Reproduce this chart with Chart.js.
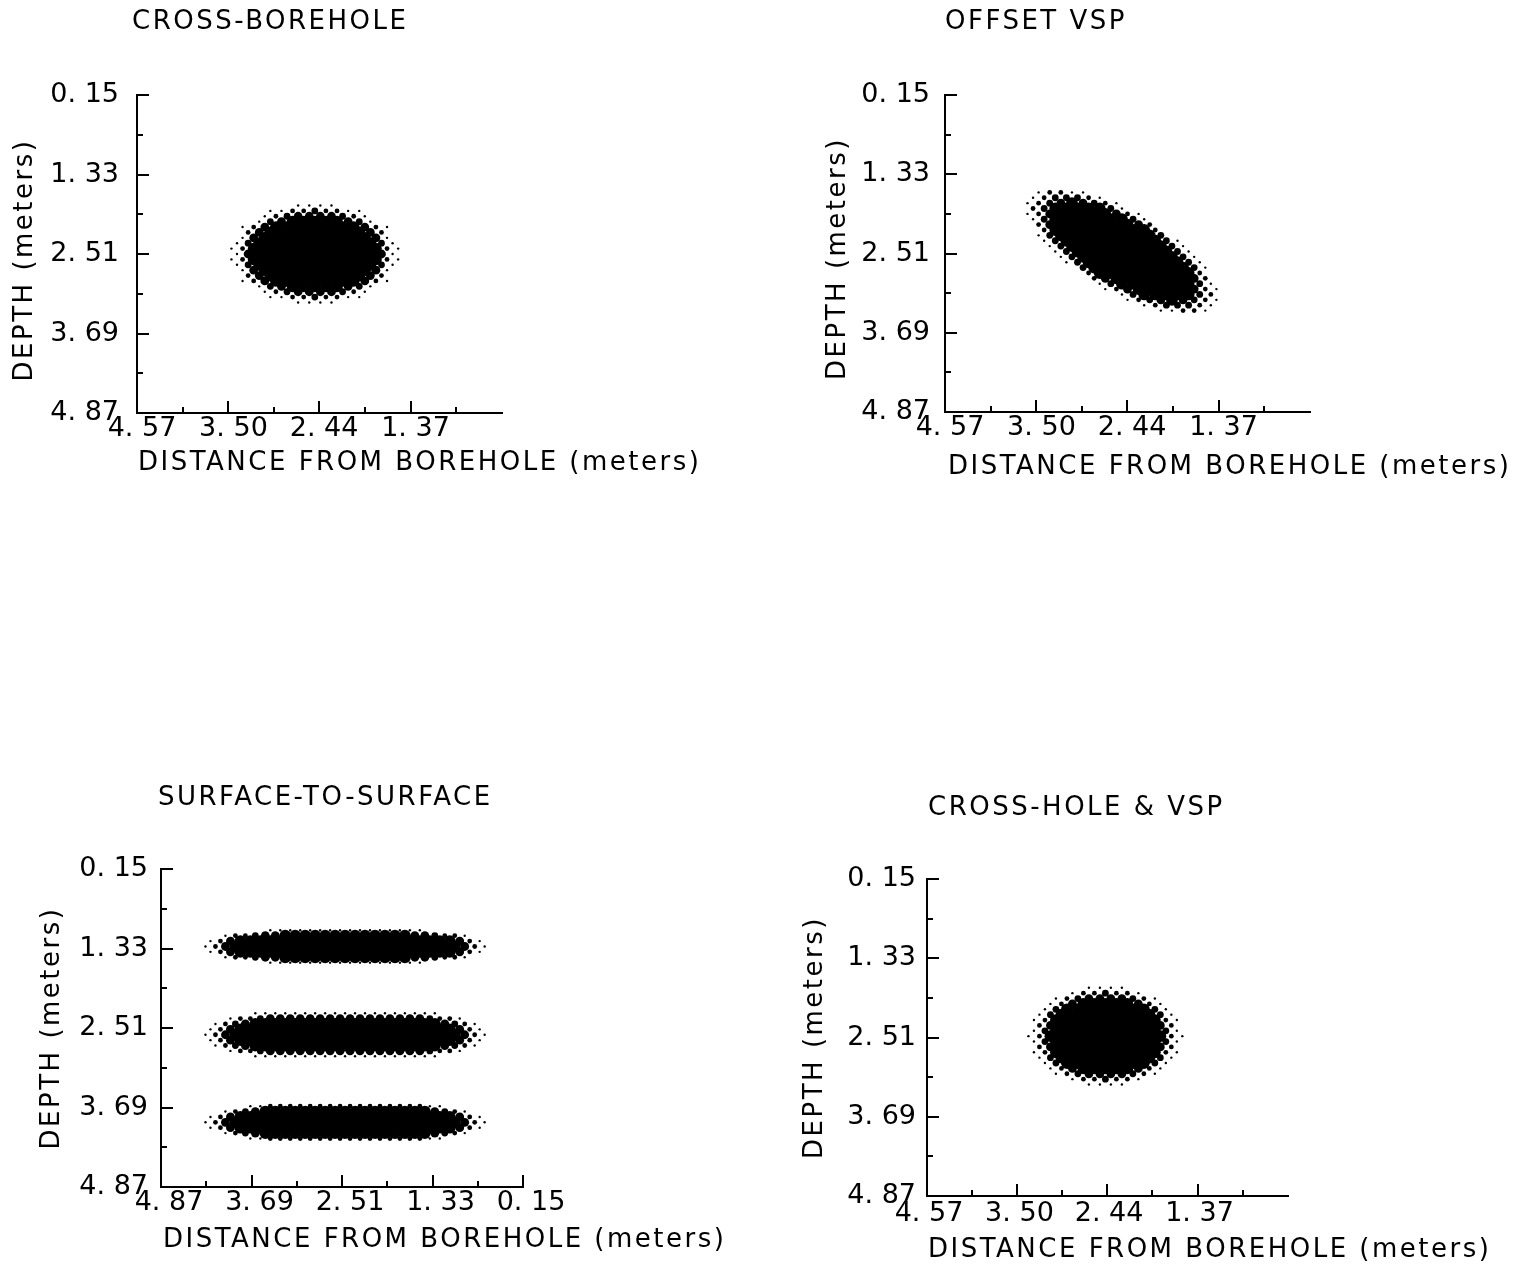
<!DOCTYPE html>
<html>
<head>
<meta charset="utf-8">
<title>Resolution of four survey geometries</title>
<script src="https://cdn.jsdelivr.net/npm/chart.js@4.4.1/dist/chart.umd.min.js"></script>
<style>
  html, body { margin: 0; padding: 0; background: #ffffff; }
  body { position: relative; width: 1533px; height: 1268px; overflow: hidden; }
  canvas { position: absolute; }
</style>
</head>
<body>
<canvas id="p1" width="766" height="634" style="left:0px;top:0px"></canvas>
<canvas id="p2" width="767" height="634" style="left:766px;top:0px"></canvas>
<canvas id="p3" width="766" height="634" style="left:0px;top:634px"></canvas>
<canvas id="p4" width="767" height="634" style="left:766px;top:634px"></canvas>
<script>
// ---------------- DATA ----------------
const PANEL_TITLES = ['CROSS-BOREHOLE', 'OFFSET VSP', 'SURFACE-TO-SURFACE', 'CROSS-HOLE & VSP'];
const X_TITLE = 'DISTANCE FROM BOREHOLE (meters)';
const Y_TITLE = 'DEPTH (meters)';

// depth axis (all panels)
const DEPTH_RANGE = [0.15, 4.87];
const DEPTH_TICKS = [0.15, 1.33, 2.51, 3.69, 4.87];
const DEPTH_LABELS = ['0. 15', '1. 33', '2. 51', '3. 69', '4. 87'];
const DEPTH_MINOR = [0.74, 1.92, 3.10, 4.28];

// distance axis, borehole panels
const DIST_RANGE = [0.30, 4.57];
const DIST_TICKS = [4.57, 3.50, 2.44, 1.37];
const DIST_LABELS = ['4. 57', '3. 50', '2. 44', '1. 37'];
const DIST_MINOR = [4.035, 2.97, 1.905, 0.835];

// distance axis, surface-to-surface panel
const SURF_RANGE = [0.15, 4.87];
const SURF_TICKS = [4.87, 3.69, 2.51, 1.33, 0.15];
const SURF_LABELS = ['4. 87', '3. 69', '2. 51', '1. 33', '0. 15'];
const SURF_MINOR = [4.28, 3.10, 1.92, 0.74];

// halftone resolution images: grid cell size (m) and intensity (0-9) per dot row;
// odd rows are staggered by half a cell (halftone screen)
const CELL_DX = 0.13;
const CELL_DY = 0.08;

const CROSS_BOREHOLE_ORIGIN = [1.515, 1.79];
const CROSS_BOREHOLE_ROWS = [
  "0000001111000000",
  "0001133533110000",
  "0001357777531000",
  "0015799999751000",
  "0137999999997310",
  "0379999999997300",
  "0179999999999710",
  "1599999999999510",
  "1399999999999931",
  "1799999999999710",
  "1399999999999931",
  "1599999999999510",
  "0179999999999710",
  "0379999999997300",
  "0137999999997310",
  "0015799999751000",
  "0001357777531000",
  "0001133533110000",
  "0000001111000000"
];

const OFFSET_VSP_ORIGIN = [1.395, 1.60];
const OFFSET_VSP_ROWS = [
  "000000000000113310",
  "000000000013555310",
  "000000000135797531",
  "000000001599999530",
  "000000013799999731",
  "000000159999999510",
  "000000379999999730",
  "000003999999999300",
  "000005999999999510",
  "000159999999995100",
  "000159999999995100",
  "001599999999951000",
  "001599999999951000",
  "015999999999510000",
  "015999999999500000",
  "039999999993000000",
  "037999999973000000",
  "159999999510000000",
  "137999997310000000",
  "359999951000000000",
  "135797531000000000",
  "135553100000000000",
  "013311000000000000"
];

const SURF_UPPER_ORIGIN = [0.455, 1.06];
const SURF_UPPER_ROWS = [
  "0000000011111111111111110000000",
  "0001335779999999999999775331000",
  "0013799999999999999999999997310",
  "0137999999999999999999999997310",
  "0013799999999999999999999997310",
  "0001335779999999999999775331000",
  "0000000011111111111111110000000"
];

const SURF_MIDDLE_ORIGIN = [0.52, 2.29];
const SURF_MIDDLE_ROWS = [
  "0000001111111111111111111000000",
  "0001335777777777777777753310000",
  "0013579999999999999999999753100",
  "0137999999999999999999999973100",
  "0137999999999999999999999997310",
  "0137999999999999999999999973100",
  "0013579999999999999999999753100",
  "0001335777777777777777753310000",
  "0000001111111111111111111000000"
];

const SURF_LOWER_ORIGIN = [0.455, 3.67];
const SURF_LOWER_ROWS = [
  "0000001133333333333333331100000",
  "0001357999999999999999997531000",
  "0013799999999999999999999997310",
  "0137999999999999999999999997310",
  "0013799999999999999999999997310",
  "0001357999999999999999997531000",
  "0000001133333333333333331100000"
];

const CROSS_VSP_ORIGIN = [1.485, 1.77];
const CROSS_VSP_ROWS = [
  "0000001111000000",
  "0000133533100000",
  "0001357777531000",
  "0013799999731000",
  "0015999999995100",
  "0159999999995100",
  "0139999999999310",
  "0379999999997300",
  "0159999999999510",
  "1399999999999310",
  "0159999999999510",
  "0379999999997300",
  "0139999999999310",
  "0159999999995100",
  "0015999999995100",
  "0013799999731000",
  "0001357777531000",
  "0000133533100000",
  "0000001111000000"
];

// ---------------- STYLE / RENDERING ----------------
const LEVEL_RADIUS = [0, 1.2, 1.8, 2.4, 2.9, 3.4, 3.9, 4.4, 5.1, 5.9];
const FONT_FAMILY = "'DejaVu Sans', 'Liberation Sans', sans-serif";
const TICK_FONT = { family: FONT_FAMILY, size: 27, weight: 'normal', lineHeight: 1.2 };
const TITLE_FONT = '26px ' + FONT_FAMILY;
const TITLE_SPACING = '2.5px';

function halftone(origin, rows) {
  const pts = [];
  rows.forEach((row, i) => {
    for (let j = 0; j < row.length; j++) {
      const v = Number(row[j]);
      if (v > 0) {
        pts.push({ x: origin[0] + (j + (i % 2) * 0.5) * CELL_DX, y: origin[1] + i * CELL_DY, v: v });
      }
    }
  });
  return pts;
}

const DECOR = {};

const panelDecor = {
  id: 'panelDecor',
  afterDraw(chart) {
    const o = DECOR[chart.canvas.id];
    if (!o) return;
    const ctx = chart.ctx;
    const a = chart.chartArea;
    const xs = chart.scales.x, ys = chart.scales.y;
    ctx.save();
    ctx.strokeStyle = '#000';
    ctx.lineWidth = 2;
    ctx.lineCap = 'butt';
    ctx.beginPath();
    DEPTH_TICKS.forEach(v => { const p = Math.round(ys.getPixelForValue(v)); ctx.moveTo(a.left, p); ctx.lineTo(a.left + 12, p); });
    DEPTH_MINOR.forEach(v => { const p = Math.round(ys.getPixelForValue(v)); ctx.moveTo(a.left, p); ctx.lineTo(a.left + 6, p); });
    o.xMajor.forEach(v => { const p = Math.round(xs.getPixelForValue(v)); ctx.moveTo(p, a.bottom); ctx.lineTo(p, a.bottom - 12); });
    o.xMinor.forEach(v => { const p = Math.round(xs.getPixelForValue(v)); ctx.moveTo(p, a.bottom); ctx.lineTo(p, a.bottom - 6); });
    ctx.stroke();

    ctx.fillStyle = '#000';
    ctx.font = TITLE_FONT;
    try { ctx.letterSpacing = TITLE_SPACING; } catch (e) {}
    ctx.textBaseline = 'middle';
    ctx.textAlign = 'left';
    ctx.fillText(o.title, a.left + o.t[0], a.top + o.t[1]);
    ctx.fillText(X_TITLE, a.left + o.xt[0], a.bottom + o.xt[1]);
    ctx.translate(a.left + o.yt[0], (a.top + a.bottom) / 2 + o.yt[1]);
    ctx.rotate(-Math.PI / 2);
    ctx.textAlign = 'center';
    ctx.fillText(Y_TITLE, 0, 0);
    ctx.restore();
  }
};

function makePanel(id, o) {
  DECOR[id] = o;
  const radius = c => (c.raw ? LEVEL_RADIUS[c.raw.v] : 0);
  const datasets = o.blobs.map(b => ({
    data: halftone(b[0], b[1]),
    backgroundColor: '#000',
    borderColor: '#000',
    borderWidth: 0,
    pointStyle: 'circle',
    pointRadius: radius,
    pointHoverRadius: radius,
    pointBorderWidth: 0
  }));
  return new Chart(document.getElementById(id), {
    type: 'scatter',
    data: { datasets: datasets },
    options: {
      responsive: false,
      animation: false,
      events: [],
      layout: { autoPadding: false, padding: o.padding },
      plugins: { legend: { display: false }, tooltip: { enabled: false }, title: { display: false } },
      scales: {
        x: {
          type: 'linear', reverse: true, min: o.xRange[0], max: o.xRange[1],
          afterBuildTicks: s => { s.ticks = o.xTicks.map(v => ({ value: v })); },
          afterFit: s => { s.height = 60; },
          ticks: {
            autoSkip: false, maxRotation: 0, minRotation: 0, padding: o.xPad, labelOffset: o.xOff,
            color: '#000', font: TICK_FONT, callback: (v, i) => o.xLabels[i]
          },
          grid: { display: true, drawOnChartArea: false, drawTicks: false },
          border: { display: true, color: '#000', width: 2 }
        },
        y: {
          type: 'linear', reverse: true, min: DEPTH_RANGE[0], max: DEPTH_RANGE[1],
          afterBuildTicks: s => { s.ticks = DEPTH_TICKS.map(v => ({ value: v })); },
          afterFit: s => { s.width = 100; },
          ticks: {
            autoSkip: false, padding: o.yPad, color: '#000', font: TICK_FONT,
            callback: (v, i) => DEPTH_LABELS[i]
          },
          grid: { display: true, drawOnChartArea: false, drawTicks: false },
          border: { display: true, color: '#000', width: 2 }
        }
      }
    },
    plugins: [panelDecor]
  });
}

makePanel('p1', {
  title: PANEL_TITLES[0],
  blobs: [[CROSS_BOREHOLE_ORIGIN, CROSS_BOREHOLE_ROWS]],
  xRange: DIST_RANGE, xTicks: DIST_TICKS, xLabels: DIST_LABELS, xMajor: DIST_TICKS, xMinor: DIST_MINOR,
  padding: { left: 37, top: 95, right: 264, bottom: 161 },
  xPad: 0, xOff: 5, yPad: 18,
  t: [-5, -73], xt: [1, 50], yt: [-112, 6]
});

makePanel('p2', {
  title: PANEL_TITLES[1],
  blobs: [[OFFSET_VSP_ORIGIN, OFFSET_VSP_ROWS]],
  xRange: DIST_RANGE, xTicks: DIST_TICKS, xLabels: DIST_LABELS, xMajor: DIST_TICKS, xMinor: DIST_MINOR,
  padding: { left: 79, top: 95, right: 223, bottom: 162 },
  xPad: 0, xOff: 5, yPad: 15,
  t: [0, -73], xt: [3, 55], yt: [-107, 5]
});

makePanel('p3', {
  title: PANEL_TITLES[2],
  blobs: [[SURF_UPPER_ORIGIN, SURF_UPPER_ROWS], [SURF_MIDDLE_ORIGIN, SURF_MIDDLE_ROWS], [SURF_LOWER_ORIGIN, SURF_LOWER_ROWS]],
  xRange: SURF_RANGE, xTicks: SURF_TICKS, xLabels: SURF_LABELS, xMajor: SURF_TICKS, xMinor: SURF_MINOR,
  padding: { left: 61, top: 235, right: 243, bottom: 21 },
  xPad: 0, xOff: 8, yPad: 13,
  t: [-3, -71], xt: [2, 53], yt: [-109, 0]
});

makePanel('p4', {
  title: PANEL_TITLES[3],
  blobs: [[CROSS_VSP_ORIGIN, CROSS_VSP_ROWS]],
  xRange: DIST_RANGE, xTicks: DIST_TICKS, xLabels: DIST_LABELS, xMajor: DIST_TICKS, xMinor: DIST_MINOR,
  padding: { left: 61, top: 245, right: 245, bottom: 12 },
  xPad: 2, xOff: 2, yPad: 11,
  t: [1, -71], xt: [1, 54], yt: [-112, 0]
});
</script>
</body>
</html>
